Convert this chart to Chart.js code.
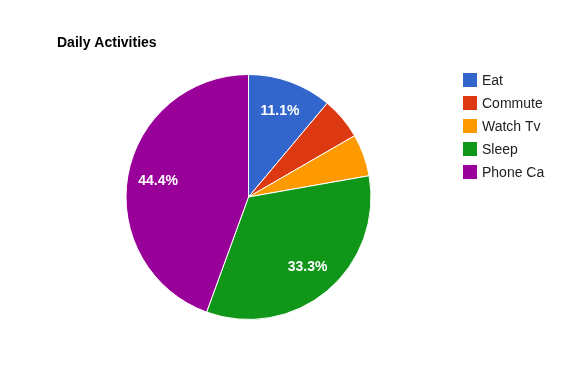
<!DOCTYPE html>
<html>
<head>
<meta charset="utf-8">
<script src="https://cdn.jsdelivr.net/npm/chart.js@4"></script>
<style>
  html, body { margin: 0; padding: 0; background: #fff; }
  #wrap { width: 575px; height: 383px; }
</style>
</head>
<body>
<div id="wrap"><canvas id="pie"></canvas></div>
<script>
// data
const chartTitle = "Daily Activities";
const activities = ["Eat", "Commute", "Watch Tv", "Sleep", "Phone Call"];
const hoursPerDay = [2, 1, 1, 6, 8];
const sliceColors = ["#3366cc", "#dc3912", "#ff9900", "#109618", "#990099"];

const FONT = "Arial, 'Liberation Sans', sans-serif";

// title + legend drawn like the google chart (legend cut at the right edge)
const decorPlugin = {
  id: "decor",
  afterDraw(chart) {
    const ctx = chart.ctx;
    ctx.save();
    ctx.fillStyle = "#000";
    ctx.font = "bold 14px " + FONT;
    ctx.textBaseline = "alphabetic";
    ctx.textAlign = "left";
    ctx.fillText(chartTitle, 57, 47);

    ctx.beginPath();
    ctx.rect(455, 60, 90, 140);
    ctx.clip();
    ctx.font = "14px " + FONT;
    activities.forEach((name, i) => {
      const y = 73 + i * 23;
      ctx.fillStyle = sliceColors[i];
      ctx.fillRect(463, y, 14, 14);
      ctx.fillStyle = "#222";
      ctx.fillText(name, 482, y + 12);
    });
    ctx.restore();
  },
};

// percentage labels inside the bigger slices
const pctPlugin = {
  id: "pct",
  afterDatasetsDraw(chart) {
    const ctx = chart.ctx;
    const meta = chart.getDatasetMeta(0);
    const total = hoursPerDay.reduce((a, b) => a + b, 0);
    ctx.save();
    ctx.font = "bold 14px " + FONT;
    ctx.fillStyle = "#fff";
    ctx.textAlign = "center";
    ctx.textBaseline = "middle";
    meta.data.forEach((arc, i) => {
      const share = hoursPerDay[i] / total;
      if (share < 0.1) return;
      const mid = (arc.startAngle + arc.endAngle) / 2;
      const r = arc.outerRadius * 0.75;
      ctx.fillText((share * 100).toFixed(1) + "%", arc.x + Math.cos(mid) * r, arc.y + Math.sin(mid) * r);
    });
    ctx.restore();
  },
};

new Chart(document.getElementById("pie"), {
  type: "pie",
  data: {
    labels: activities,
    datasets: [{
      data: hoursPerDay,
      backgroundColor: sliceColors,
      borderColor: "#fff",
      borderWidth: 1,
    }],
  },
  options: {
    responsive: true,
    maintainAspectRatio: false,
    animation: false,
    layout: { padding: { left: 125, right: 203, top: 74, bottom: 63 } },
    plugins: {
      legend: { display: false },
      tooltip: { enabled: false },
    },
  },
  plugins: [decorPlugin, pctPlugin],
});
</script>
</body>
</html>
